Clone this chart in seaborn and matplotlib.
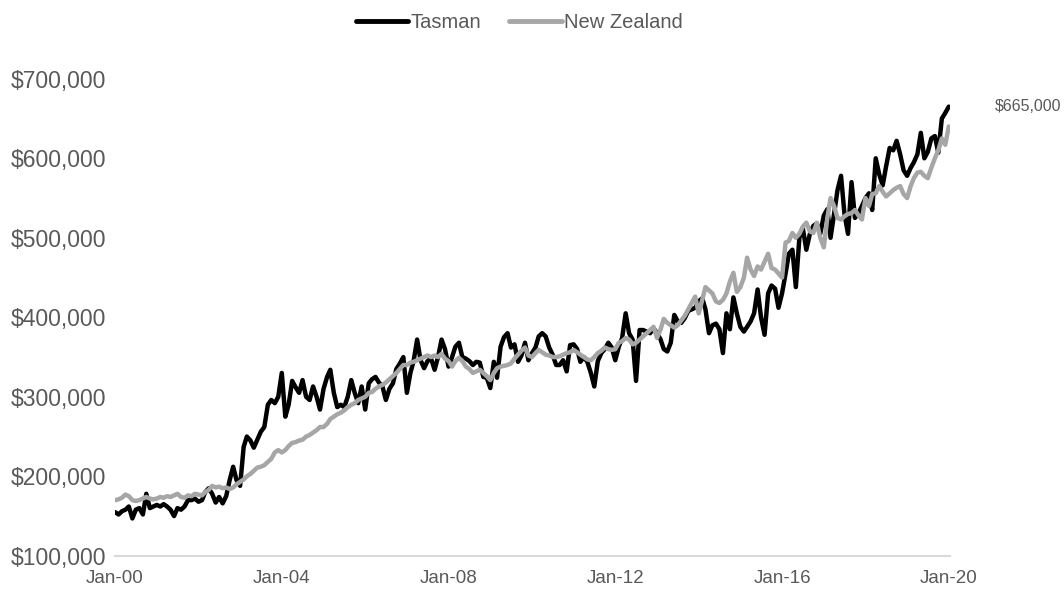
import pandas as pd
import matplotlib
matplotlib.use('Agg')
import matplotlib.pyplot as plt
import matplotlib.dates as mdates
from matplotlib.ticker import FuncFormatter
import seaborn as sns

# monthly median price, Jan-2000 .. Jan-2020 ($000)
tasman = [
    155, 152, 156, 158, 162, 147, 158, 160, 152, 178, 160, 162,
    164, 162, 165, 162, 158, 150, 160, 158, 162, 170, 170, 172,
    168, 170, 180, 185, 178, 167, 174, 166, 175, 195, 212, 195,
    188, 237, 250, 245, 236, 246, 256, 262, 290, 296, 292, 300,
    330, 275, 290, 320, 312, 305, 321, 300, 296, 313, 300, 284,
    310, 325, 334, 305, 287, 290, 287, 300, 321, 305, 292, 313,
    284, 317, 322, 325, 318, 313, 296, 310, 317, 335, 342, 350,
    305, 330, 345, 372, 346, 336, 345, 348, 334, 350, 372, 360,
    338, 350, 363, 368, 350, 348, 345, 340, 344, 343, 325, 324,
    311, 344, 324, 363, 375, 380, 362, 366, 344, 352, 368, 346,
    355, 362, 376, 380, 376, 362, 353, 340, 340, 346, 332, 365,
    366, 360, 344, 350, 344, 330, 313, 345, 355, 360, 368, 362,
    346, 363, 374, 405, 380, 372, 320, 384, 384, 382, 380, 386,
    380, 372, 360, 357, 368, 403, 395, 393, 399, 408, 410, 412,
    420, 424, 410, 380, 390, 392, 385, 355, 405, 385, 425, 405,
    388, 382, 388, 395, 405, 435, 400, 378, 430, 440, 436, 412,
    430, 455, 480, 485, 438, 500, 512, 485, 505, 515, 518, 505,
    528, 536, 500, 530, 560, 578, 530, 505, 570, 525, 531, 540,
    550, 556, 535, 600, 580, 566, 590, 613, 610, 622, 605, 585,
    578, 588, 595, 605, 632, 600, 608, 625, 628, 607, 650, 657,
    665,
]
nz = [
    170, 171, 173, 177, 175, 170, 169, 170, 172, 174, 172, 171,
    172, 174, 173, 175, 174, 176, 178, 174, 173, 176, 175, 178,
    177, 176, 180, 183, 188, 186, 187, 185, 186, 184, 186, 190,
    193, 196, 200, 203, 207, 211, 212, 214, 218, 222, 230, 233,
    230, 233, 238, 242, 243, 245, 246, 250, 252, 255, 258, 262,
    262, 266, 272, 275, 278, 280, 283, 287, 290, 292, 296, 298,
    300, 305, 306, 310, 313, 315, 318, 322, 326, 330, 335, 340,
    340, 343, 344, 346, 348, 350, 352, 350, 352, 350, 354, 348,
    345, 338, 345, 349, 345, 338, 335, 330, 332, 334, 330, 326,
    321, 330, 336, 338, 339, 340, 342, 348, 353, 358, 362, 352,
    350, 355, 359, 356, 353, 352, 350, 350, 351, 353, 355, 356,
    359, 356, 353, 350, 347, 346, 350, 355, 358, 362, 360, 359,
    360, 368, 370, 374, 372, 366, 368, 372, 376, 380, 384, 388,
    374, 385, 398, 393, 390, 387, 390, 396, 402, 410, 418, 426,
    405, 422, 438, 434, 430, 420, 418, 422, 430, 445, 456, 432,
    438, 450, 475, 460, 452, 464, 460, 470, 480, 462, 460, 455,
    450, 494, 496, 506, 500, 505, 514, 519, 508, 506, 519, 500,
    488, 525, 550, 540, 525, 523, 527, 530, 531, 535, 528, 523,
    550, 540, 555, 556, 565, 558, 552, 556, 560, 563, 565, 555,
    550, 565, 575, 582, 583, 578, 575, 588, 600, 610, 625, 617,
    640,
]
series_names = ['Tasman', 'New Zealand']
end_label = '$665,000'

months = pd.date_range('2000-01-01', periods=len(tasman), freq='MS')
df = pd.DataFrame({'date': list(months) * 2,
                   'price': [v * 1000 for v in tasman + nz],
                   'region': [series_names[0]] * len(tasman) + [series_names[1]] * len(nz)})

sns.set_style('white')
plt.rcParams['font.family'] = ['Liberation Sans', 'DejaVu Sans']
txt = '#595959'

fig = plt.figure(figsize=(10.64, 5.97), dpi=100)
ax = fig.add_axes([0.108, 0.069, 0.785, 0.799])

sns.lineplot(data=df, x='date', y='price', hue='region',
             palette={'Tasman': '#000000', 'New Zealand': '#a6a6a6'},
             linewidth=3.2, ax=ax, legend=False)

ax.set_ylim(100000, 700000)
ax.set_yticks(range(100000, 700001, 100000))
ax.yaxis.set_major_formatter(FuncFormatter(lambda v, p: '${:,.0f}'.format(v)))
ax.set_xlim(months[0] - pd.Timedelta(days=1), months[-1] + pd.Timedelta(days=12))
ax.set_xticks(pd.date_range('2000-01-01', '2020-01-01', freq='48MS'))
ax.xaxis.set_major_formatter(mdates.DateFormatter('%b-%y'))
ax.tick_params(axis='y', labelsize=16.5, colors=txt, length=0, pad=6)
ax.tick_params(axis='x', labelsize=13.5, colors=txt, length=0, pad=10)
ax.set_xlabel('')
ax.set_ylabel('')
for s in ['top', 'right', 'left']:
    ax.spines[s].set_visible(False)
ax.spines['bottom'].set_color('#d9d9d9')
ax.spines['bottom'].set_linewidth(1.5)

ax.annotate(end_label, xy=(months[-1], tasman[-1] * 1000), xytext=(33, 0),
            textcoords='offset points', ha='left', va='center',
            fontsize=11.5, color=txt)

handles = [plt.Line2D([], [], color='#000000', lw=3.5),
           plt.Line2D([], [], color='#a6a6a6', lw=3.5)]
fig.legend(handles, series_names, loc='center', bbox_to_anchor=(0.488, 0.963),
           ncol=2, frameon=False, fontsize=14.5, labelcolor=txt,
           handlelength=2.6, handletextpad=0.1, columnspacing=1.4)

fig.savefig('out.png', dpi=100)
